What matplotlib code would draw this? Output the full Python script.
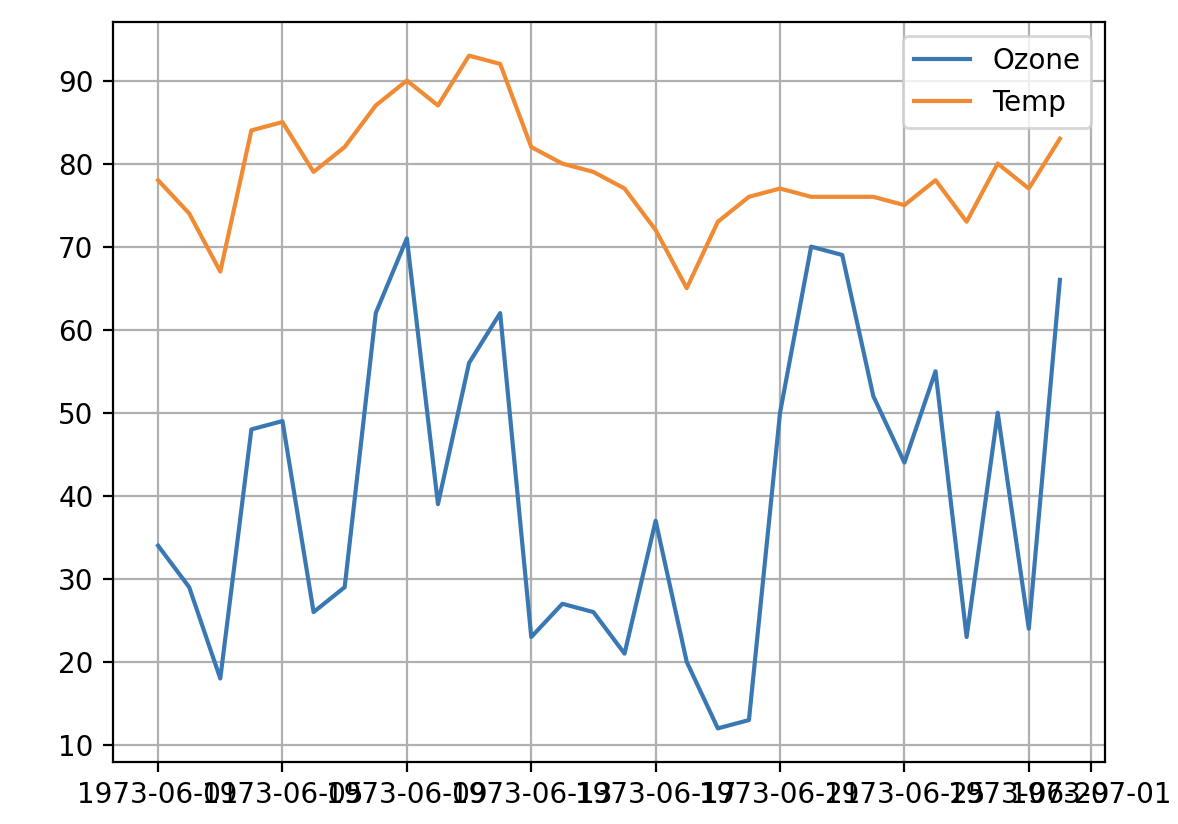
import matplotlib
matplotlib.use("Agg")
import matplotlib.pyplot as plt
import numpy as np
import pandas as pd

dates = pd.date_range("1973-06-01", "1973-06-30", freq="D")
ozone = [34, 29, 18, 48, 49, 26, 29, 62, 71, 39, 56, 62, 23, 27, 26, 21, 37, 20,
         12, 13, 50, 70, 69, 52, 44, 55, 23, 50, 24, 66]
temp = [78, 74, 67, 84, 85, 79, 82, 87, 90, 87, 93, 92, 82, 80, 79, 77, 72, 65,
        73, 76, 77, 76, 76, 76, 75, 78, 73, 80, 77, 83]

fig = plt.figure(figsize=(5.89, 4.12), dpi=200)
ax = fig.add_axes([113/1178, 1-762/824, (1105-113)/1178, (762-22)/824])
ax.plot(dates, ozone, color="#3a78b4", label="Ozone", lw=1.5)
ax.plot(dates, temp, color="#f08a33", label="Temp", lw=1.5)
ax.grid(True)
ax.legend(loc="upper right")
fig.savefig("out.png", dpi=200)
